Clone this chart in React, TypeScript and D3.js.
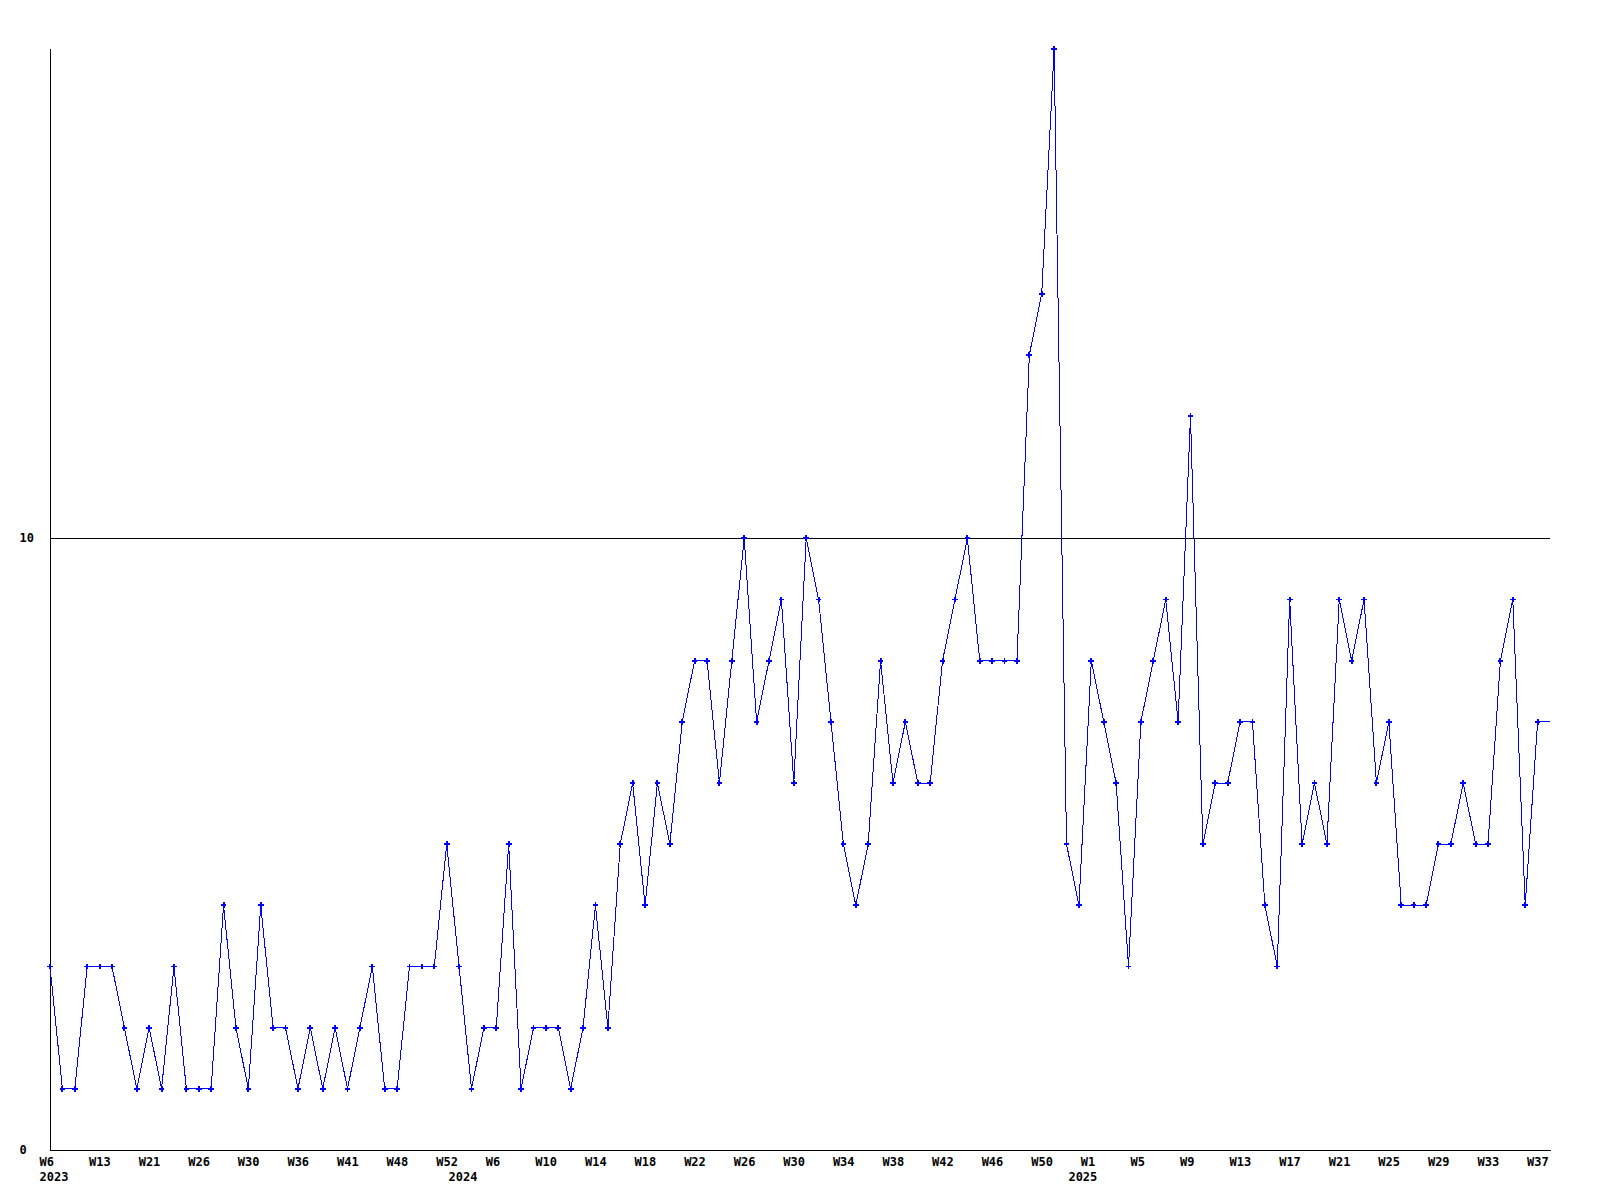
import React from "react";
import * as d3 from "d3";

// Weekly counts, 2023 W6 .. 2025 W38 (last point is the running week at the right edge)
const values: number[] = [
  3, 1, 1, 3, 3, 3, 2, 1, 2, 1, 3, 1, 1, 1, 4, 2, 1, 4, 2, 2, 1,
  2, 1, 2, 1, 2, 3, 1, 1, 3, 3, 3, 5, 3, 1, 2, 2, 5, 1, 2, 2,
  2, 1, 2, 4, 2, 5, 6, 4, 6, 5, 7, 8, 8, 6, 8, 10, 7, 8, 9, 6,
  10, 9, 7, 5, 4, 5, 8, 6, 7, 6, 6, 8, 9, 10, 8, 8, 8, 8, 13, 14, 18,
  5, 4, 8, 7, 6, 3, 7, 8, 9, 7, 12, 5, 6, 6, 7, 7, 4, 3, 9, 5,
  6, 5, 9, 8, 9, 6, 7, 4, 4, 4, 5, 5, 6, 5, 5, 8, 9, 4, 7, 7,
];

// x tick labels, one every 4th point
const tickLabels: string[] = [
  "W6", "W13", "W21", "W26", "W30", "W36", "W41", "W48", "W52",
  "W6", "W10", "W14", "W18", "W22", "W26", "W30", "W34", "W38", "W42", "W46", "W50",
  "W1", "W5", "W9", "W13", "W17", "W21", "W25", "W29", "W33", "W37",
];
const tickEvery = 4;

// year labels and the index of the first point of each year
const yearLabels: string[] = ["2023", "2024", "2025"];
const yearStartIdx: number[] = [0, 33, 83];

// y ticks
const yTicks: number[] = [0, 10];
const yMax = 18;

export default function App() {
  const W = 1600;
  const H = 1200;
  const left = 50;
  const right = 1550;
  const top = 49;
  const bottom = 1150;

  const x = d3.scaleLinear().domain([0, values.length - 1]).range([left, right]);
  const y = d3.scaleLinear().domain([0, yMax]).range([bottom, top]);

  const labelOffset = -10.5;

  const line = d3
    .line<number>()
    .x((_, i) => x(i))
    .y((d) => y(d));

  const cross = d3.symbol().type(d3.symbolCross).size(18)();

  const font = "'DejaVu Sans Mono', 'Liberation Mono', monospace";
  const fs = 12;

  return (
    <svg
      width={W}
      height={H}
      viewBox={`0 0 ${W} ${H}`}
      style={{ position: "absolute", left: 0, top: 0, background: "#fff" }}
    >
      <rect x={0} y={0} width={W} height={H} fill="#fff" />
      {/* grid lines for non-zero ticks */}
      {yTicks
        .filter((t) => t > 0)
        .map((t) => (
          <line
            key={"g" + t}
            x1={left}
            x2={right}
            y1={Math.round(y(t)) + 0.5}
            y2={Math.round(y(t)) + 0.5}
            stroke="#000"
            strokeWidth={1}
            shapeRendering="crispEdges"
          />
        ))}
      {/* axes */}
      <line
        x1={left + 0.5}
        x2={left + 0.5}
        y1={top}
        y2={bottom + 0.5}
        stroke="#000"
        strokeWidth={1}
        shapeRendering="crispEdges"
      />
      <line
        x1={left}
        x2={right + 0.5}
        y1={bottom + 0.5}
        y2={bottom + 0.5}
        stroke="#000"
        strokeWidth={1}
        shapeRendering="crispEdges"
      />
      {/* y labels */}
      {yTicks.map((t) => (
        <text
          key={"yl" + t}
          x={19.5}
          y={y(t) + 4}
          fontFamily={font}
          fontWeight="bold"
          fontSize={fs}
          fill="#000"
        >
          {t}
        </text>
      ))}
      {/* x labels */}
      {tickLabels.map((lab, k) => (
        <text
          key={"xl" + k}
          x={x(k * tickEvery) + labelOffset}
          y={1166}
          fontFamily={font}
          fontWeight="bold"
          fontSize={fs}
          fill="#000"
        >
          {lab}
        </text>
      ))}
      {yearLabels.map((yr, k) => (
        <text
          key={"yr" + yr}
          x={x(yearStartIdx[k]) + labelOffset}
          y={1181}
          fontFamily={font}
          fontWeight="bold"
          fontSize={fs}
          fill="#000"
        >
          {yr}
        </text>
      ))}
      {/* series */}
      <path
        d={line(values) || ""}
        fill="none"
        stroke="#0000ff"
        strokeWidth={1}
        shapeRendering="crispEdges"
      />
      {values.slice(0, values.length - 1).map((v, i) => (
        <path
          key={"m" + i}
          d={cross || ""}
          transform={`translate(${x(i)},${y(v)})`}
          fill="#0000ff"
          shapeRendering="crispEdges"
        />
      ))}
    </svg>
  );
}
